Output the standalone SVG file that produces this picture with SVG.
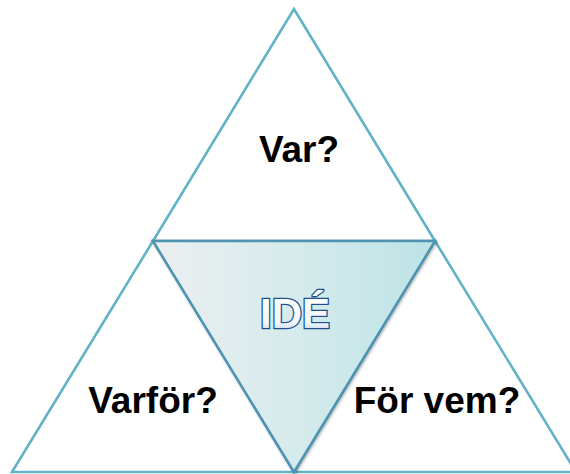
<svg xmlns="http://www.w3.org/2000/svg" width="570" height="474" viewBox="0 0 570 474">
<style>
.tri{fill:#ffffff;stroke:#62B2C8;stroke-width:2.6;stroke-linejoin:miter}
.lbl{font-family:"Liberation Sans",Arial,sans-serif;font-weight:bold;font-size:37px;fill:#000000;text-anchor:middle}
.ide{font-family:"Liberation Sans",Arial,sans-serif;font-weight:bold;font-size:42px;fill:url(#ideFill);stroke:#1F4F8F;stroke-width:2.6;text-anchor:middle;paint-order:stroke}
</style>
<defs>
<linearGradient id="innerFill" x1="0" y1="0" x2="1" y2="0">
<stop offset="0" stop-color="#ECEFF0"/>
<stop offset="0.5" stop-color="#D6EBEC"/>
<stop offset="1" stop-color="#BCE3E6"/>
</linearGradient>
<linearGradient id="ideFill" x1="0" y1="0" x2="0" y2="1">
<stop offset="0" stop-color="#FFFFFF"/>
<stop offset="0.7" stop-color="#F2F6FC"/>
<stop offset="1" stop-color="#A9C3E8"/>
</linearGradient>
<filter id="shadow" x="-10%" y="-10%" width="120%" height="120%">
<feGaussianBlur in="SourceAlpha" stdDeviation="1.5"/>
<feOffset dx="1" dy="1" result="b"/>
<feComponentTransfer><feFuncA type="linear" slope="0.35"/></feComponentTransfer>
<feMerge><feMergeNode/><feMergeNode in="SourceGraphic"/></feMerge>
</filter>
</defs>
<g id="node-top">
<polygon class="tri" points="294,9 153,241 435,241"/>
<text class="lbl" x="299" y="162">Var?</text>
</g>
<g id="node-left">
<polygon class="tri" points="153,241 12,472 294,472"/>
<text class="lbl" x="153" y="413">Varför?</text>
</g>
<g id="node-right">
<polygon class="tri" points="435,241 294,472 576,472"/>
<text class="lbl" x="437" y="413">För vem?</text>
</g>
<g id="node-center">
<polygon points="153,241 435,241 294,472" fill="url(#innerFill)" stroke="#4F93B3" stroke-width="2.4" stroke-linejoin="miter" filter="url(#shadow)"/>
<text class="ide" x="295" y="328">IDÉ</text>
</g>
<g id="connectors"></g>
</svg>
